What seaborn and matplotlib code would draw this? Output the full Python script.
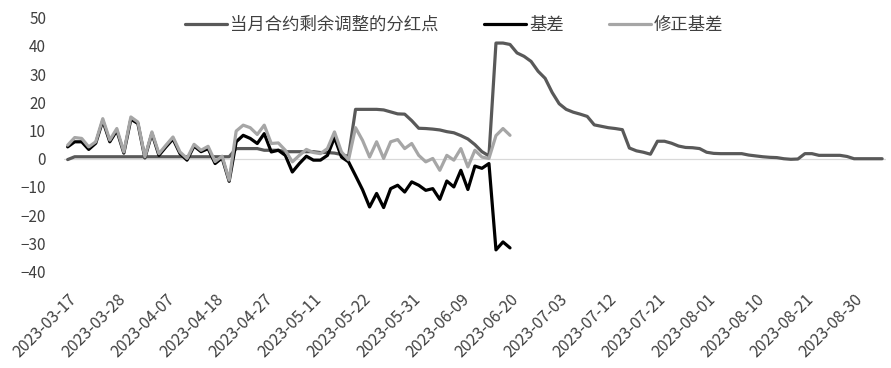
import matplotlib

matplotlib.use("Agg")

import matplotlib.pyplot as plt
import matplotlib.transforms as mtransforms
import numpy as np
import pandas as pd
import seaborn as sns

# trading days (SSE calendar) from 2023-03-17 to 2023-09-05
HOLIDAYS = ["2023-04-05", "2023-05-01", "2023-05-02", "2023-05-03", "2023-06-22", "2023-06-23"]
trade_dates = pd.bdate_range("2023-03-17", "2023-09-05", freq="C", holidays=HOLIDAYS)

SERIES_NAMES = ["当月合约剩余调整的分红点", "基差", "修正基差"]
COLORS = ["#595959", "#000000", "#A6A6A6"]

dividend_points = [
    -0.3, 0.7, 0.7, 0.7, 0.7, 0.7, 0.7, 0.7, 0.7, 0.7,
    0.7, 0.7, 0.7, 0.7, 0.7, 0.7, 0.7, 0.7, 0.7, 0.7,
    0.7, 0.7, 0.7, 0.7, 3.6, 3.6, 3.6, 3.6, 3.0, 3.0,
    3.0, 2.5, 2.5, 2.5, 2.5, 2.5, 2.2, 2.2, 2.0, 1.5,
    0.8, 17.5, 17.5, 17.5, 17.5, 17.3, 16.6, 15.9, 15.8, 13.5,
    10.8, 10.7, 10.5, 10.2, 9.6, 9.2, 8.2, 7.0, 5.0, 2.5,
    1.0, 41.0, 41.0, 40.5, 37.5, 36.3, 34.5, 31.0, 28.5, 23.5,
    19.5, 17.5, 16.5, 15.8, 15.0, 12.0, 11.5, 11.0, 10.7, 10.3,
    3.8, 2.8, 2.3, 1.6, 6.2, 6.2, 5.5, 4.5, 4.0, 3.9,
    3.6, 2.3, 1.9, 1.8, 1.8, 1.8, 1.8, 1.3, 1.0, 0.7,
    0.5, 0.4, 0.0, -0.2, -0.1, 1.8, 1.8, 1.2, 1.2, 1.2,
    1.2, 0.8, 0.0, 0.0, 0.0, 0.0, 0.0,
]

basis = [
    4.2, 6.0, 6.0, 3.3, 5.5, 13.5, 6.0, 10.0, 2.0, 14.0,
    12.5, 0.3, 9.0, 1.2, 4.2, 7.0, 1.8, -0.5, 4.5, 2.5,
    3.6, -1.7, 0.3, -8.0, 6.0, 8.3, 7.2, 5.4, 8.9, 2.4,
    3.0, 1.2, -4.7, -1.7, 0.9, -0.5, -0.5, 1.2, 7.5, 0.6,
    -1.1, -6.0, -11.0, -17.1, -12.3, -17.3, -10.6, -9.4, -11.8, -8.2,
    -9.4, -11.2, -10.6, -14.4, -7.9, -10.0, -4.1, -10.9, -2.6, -3.4,
    -1.7, -32.3, -29.5, -31.6,
]

corrected_basis = [
    4.8, 7.5, 7.2, 4.2, 6.0, 14.2, 6.6, 10.7, 2.4, 14.8,
    13.0, 0.6, 9.5, 1.8, 4.8, 7.7, 2.4, 0.1, 5.1, 3.0,
    4.4, -1.0, 0.9, -7.6, 9.8, 11.9, 11.0, 8.6, 11.9, 5.4,
    5.6, 3.0, -1.1, 1.2, 3.3, 2.2, 1.8, 3.6, 9.5, 2.4,
    -0.4, 11.0, 6.5, 0.6, 6.0, 0.1, 6.0, 6.8, 3.6, 5.4,
    1.2, -1.1, 0.1, -4.1, 1.2, -0.5, 3.6, -2.9, 3.0, 0.6,
    0.1, 8.2, 10.7, 8.3,
]

frames = []
for name, values in zip(SERIES_NAMES, [dividend_points, basis, corrected_basis]):
    frames.append(
        pd.DataFrame(
            {
                "pos": np.arange(len(values)),
                "value": values,
                "series": name,
            }
        )
    )
data = pd.concat(frames, ignore_index=True)

sns.set_theme(style="white")
plt.rcParams["font.family"] = ["Noto Sans CJK SC", "DejaVu Sans"]

fig, ax = plt.subplots(figsize=(8.91, 3.68), dpi=100)
fig.subplots_adjust(left=0.072, right=0.994, top=0.952, bottom=0.262)

ax.axhline(0, color="#D9D9D9", linewidth=0.9, zorder=0)
sns.lineplot(
    data=data,
    x="pos",
    y="value",
    hue="series",
    hue_order=SERIES_NAMES,
    palette=dict(zip(SERIES_NAMES, COLORS)),
    linewidth=2.3,
    legend=True,
    ax=ax,
)

ax.set_xlim(-0.5, len(trade_dates) - 0.5)
ax.set_ylim(-40, 50)
ax.set_yticks(range(-40, 51, 10))
tick_pos = list(range(0, len(trade_dates), 7))
ax.set_xticks(tick_pos)
ax.set_xticklabels(
    [trade_dates[i].strftime("%Y-%m-%d") for i in tick_pos],
    rotation=45,
    ha="right",
    rotation_mode="anchor",
)
# nudge the rotated date labels a little to the right, as in the original
shift = mtransforms.ScaledTranslation(4 / 100, 0, fig.dpi_scale_trans)
for label in ax.get_xticklabels():
    label.set_transform(label.get_transform() + shift)
ax.tick_params(axis="x", length=0, pad=14, labelsize=11.5, labelcolor="#404040")
ax.tick_params(axis="y", length=0, pad=13, labelsize=11, labelcolor="#404040")
ax.set_xlabel("")
ax.set_ylabel("")
for spine in ax.spines.values():
    spine.set_visible(False)

ax.legend(
    loc="upper center",
    bbox_to_anchor=(0.51, 1.0),
    bbox_transform=fig.transFigure,
    ncol=3,
    frameon=False,
    fontsize=12.5,
    handlelength=2.4,
    handletextpad=0.2,
    columnspacing=2.6,
    labelcolor="#404040",
)

fig.savefig("out.png", dpi=100)
